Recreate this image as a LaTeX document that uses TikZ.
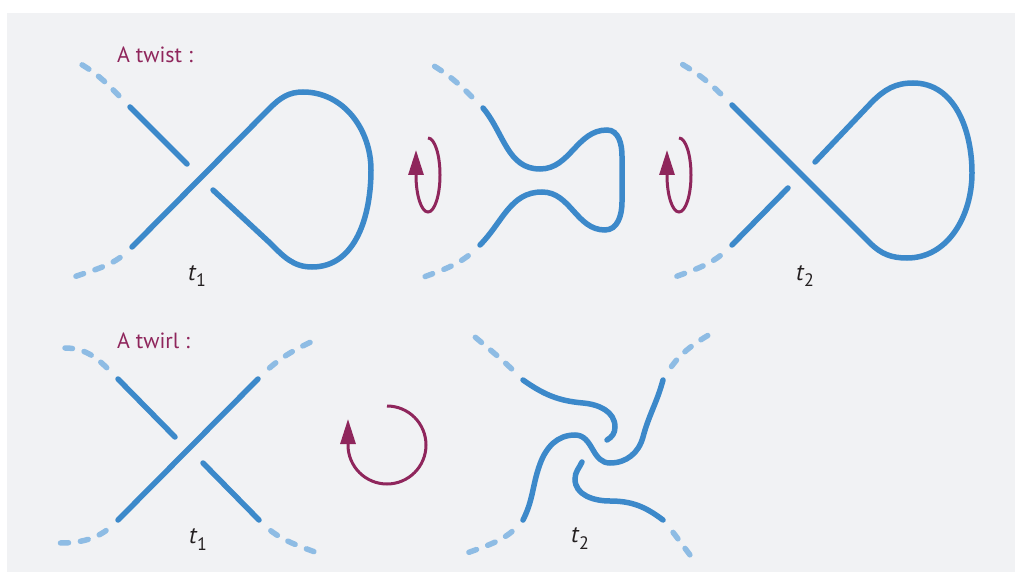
\documentclass[tikz,border=0pt]{standalone}
\usepackage{fontspec}
\setmainfont{PT Sans}
\usepackage{tikz}
\usetikzlibrary{arrows.meta}
\definecolor{strandblue}{RGB}{60,137,202}
\definecolor{dashblue}{RGB}{142,188,228}
\definecolor{twistpurple}{RGB}{143,38,92}
\definecolor{panelgray}{RGB}{241,242,244}
\definecolor{labelgray}{RGB}{35,31,32}
\newcommand{\tanglab}[1]{{\itshape t}\kern0.5pt\raisebox{-7pt}{\fontsize{18}{18}\selectfont #1}}

\begin{document}
\begin{tikzpicture}[x=1pt,y=1pt,
    strand/.style={strandblue, line width=5.5pt, line cap=round},
    freeend/.style={dashblue, line width=5.5pt, line cap=round, dash pattern=on 8pt off 12pt, dash phase=8pt, shorten <=4pt},
    twistarrow/.style={twistpurple, line width=3pt, -{Triangle[length=25pt,width=15pt]}},
    heading/.style={twistpurple, anchor=west, inner sep=0pt, font=\fontsize{22}{26}\selectfont},
    tanglelabel/.style={labelgray, anchor=base west, inner sep=0pt, font=\fontsize{24}{28}\selectfont}]
        \useasboundingbox (0,0) rectangle (1015,574);
        \fill[panelgray] (7,2) rectangle (1015,561);
        % A twist
        \node[heading] (twisthead) at (117,519) {A twist :};
        % loop t1
        \draw[strand] (130,467) -- (187,410);
        \draw[strand] (132,327) -- (270,466) to[out=45,in=180] (303,482) to[out=0,in=90] (371,404) to[out=-90,in=0] (312,307) to[out=180,in=-45] (270,331) -- (213,384);
        \draw[freeend] (130,467) to[out=135,in=-30] (79,511);
        \draw[freeend] (132,327) to[out=225,in=20] (71,296);
        \node[tanglelabel] (twistA) at (188,294) {\tanglab{1}};
        % half turns
        \draw[twistarrow] (428,436) arc[start angle=90, end angle=-180, x radius=12, y radius=37] -- ++(0,25);
        \draw[twistarrow] (679,436) arc[start angle=90, end angle=-180, x radius=12, y radius=37] -- ++(0,25);
        % untwisted loop
        \draw[strand] (483,466) to[out=-50,in=180] (540,405) to[out=0,in=180] (607,444) to[out=0,in=90] (622,418) -- (622,372) to[out=-90,in=0] (605,344) to[out=180,in=0] (542,382) to[out=180,in=45] (480,329);
        \draw[freeend] (483,466) to[out=135,in=-30] (429,511);
        \draw[freeend] (480,329) to[out=225,in=20] (421,296);
        % loop t2
        \draw[strand] (732,469) -- (870,331) to[out=-45,in=180] (907,316) to[out=0,in=-90] (972,401) to[out=90,in=0] (913,491) to[out=180,in=45] (872,472) -- (815,412);
        \draw[strand] (788,386) -- (732,329);
        \draw[freeend] (732,469) to[out=135,in=-30] (680,511);
        \draw[freeend] (732,329) to[out=225,in=20] (672,296);
        \node[tanglelabel] (twistB) at (796,294) {\tanglab{2}};
        % A twirl
        \node[heading] (twirlhead) at (117,233) {A twirl :};
        % crossing t1
        \draw[strand] (118,195) -- (175,137);
        \draw[strand] (203,111) -- (259,54);
        \draw[strand] (118,54) -- (258,195);
        \draw[freeend] (118,195) to[out=135,in=0] (65,226);
        \draw[freeend] (259,54) to[out=-45,in=160] (315,22);
        \draw[freeend] (258,195) to[out=45,in=205] (313,233);
        \draw[freeend] (118,54) to[out=225,in=0] (60,31);
        \node[tanglelabel] (twirlA) at (189,31) {\tanglab{1}};
        % full turn
        \draw[twistarrow] (387,168) arc[start angle=90, end angle=-180, radius=39] -- ++(0,26);
        % twirled crossing t2
        \draw[strand] (523,194) to[out=-35,in=175] (583,171) to[out=-5,in=90] (615,147) to[out=-90,in=30] (607,134);
        \draw[strand] (663,194) to[out=-105,in=75] (643,137) to[out=-105,in=0] (610,111) to[out=180,in=-60] (593,124) to[out=120,in=0] (575,139) to[out=180,in=70] (540,110) to[out=-110,in=63] (523,54);
        \draw[strand] (582,112) to[out=-115,in=90] (575,95) to[out=-90,in=180] (610,73) to[out=0,in=143] (663,54);
        \draw[freeend] (523,194) to[out=135,in=-40] (475,237);
        \draw[freeend] (663,194) to[out=60,in=210] (712,241);
        \draw[freeend] (523,54) to[out=230,in=20] (467,21);
        \draw[freeend] (663,54) to[out=-50,in=127] (690,19);
        \node[tanglelabel] (twirlB) at (571,32) {\tanglab{2}};
    \end{tikzpicture}
\end{document}
